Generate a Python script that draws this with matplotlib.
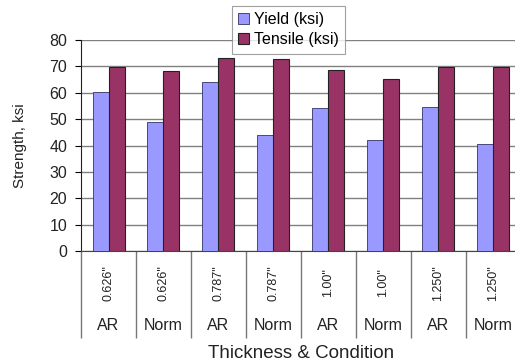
import numpy as np
import matplotlib
matplotlib.use("Agg")
from matplotlib import pyplot as plt

plt.rcParams['font.family'] = ['Liberation Sans', 'DejaVu Sans']

# strength per plate thickness / condition
thickness = ['0.626"', '0.626"', '0.787"', '0.787"', '1.00"', '1.00"', '1.250"', '1.250"']
condition = ['AR', 'Norm', 'AR', 'Norm', 'AR', 'Norm', 'AR', 'Norm']
yield_ksi = [60.1, 48.9, 64.0, 44.1, 54.3, 42.0, 54.7, 40.6]
tensile_ksi = [69.7, 68.3, 73.2, 72.7, 68.6, 65.2, 69.8, 69.8]
yticks = [0, 10, 20, 30, 40, 50, 60, 70, 80]

fig = plt.figure(figsize=(5.15, 3.63), dpi=100)
ax = fig.add_axes([81/515, 112/363, 440/515, 211/363])

x = np.arange(len(condition)) + 0.5
w = 16/55
ax.bar(x - w/2, yield_ksi, w, color='#9999ff', edgecolor='#333366', linewidth=0.6,
       label='Yield (ksi)', zorder=3)
ax.bar(x + w/2, tensile_ksi, w, color='#993366', edgecolor='#222222', linewidth=0.8,
       label='Tensile (ksi)', zorder=3)

ax.set_xlim(0, len(condition))
ax.set_ylim(0, 80)
ax.set_yticks(yticks)
ax.tick_params(axis='y', labelsize=11.5, length=4, width=0.8, pad=6,
               labelcolor='#222222')
ax.yaxis.grid(True, color='#808080', linewidth=1.0, zorder=0)
ax.set_xticks([])
for s in ['top', 'right']:
    ax.spines[s].set_visible(False)
ax.spines['left'].set_color('#222222')
ax.spines['bottom'].set_color('#444444')

# two-level category axis
tr = ax.get_xaxis_transform()
for i in range(len(condition)):
    ax.text(x[i], -0.15, thickness[i], transform=tr, rotation=90, ha='center',
            va='center', fontsize=9, color='#222222')
    ax.text(x[i], -0.351, condition[i], transform=tr, ha='center', va='center',
            fontsize=11.5, color='#222222')
ax.vlines(np.arange(len(condition) + 1), -0.41, 0, transform=tr, colors='#777777',
          linewidth=1.0, clip_on=False)

ax.set_ylabel('Strength, ksi', fontsize=11, labelpad=16, color='#222222')
fig.text(301/515, 1 - 353/363, 'Thickness & Condition', ha='center', va='center',
         fontsize=13.5, color='#222222')

leg = ax.legend(loc='upper left', bbox_to_anchor=(151/440, 1 + 34/211), fontsize=11.5,
                frameon=True, fancybox=False, edgecolor='#888888', borderpad=0.4,
                handlelength=0.65, handleheight=0.65, handletextpad=0.3,
                labelspacing=0.3, borderaxespad=0)
leg.get_frame().set_linewidth(0.8)
leg.set_zorder(5)

fig.savefig('out.png', dpi=100)
